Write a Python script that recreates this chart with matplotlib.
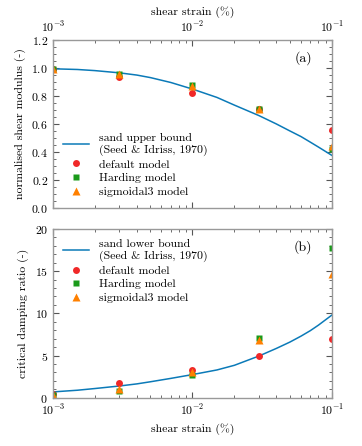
import matplotlib
matplotlib.use("Agg")
import matplotlib.pyplot as plt
from matplotlib.ticker import MultipleLocator

plt.rcParams["font.family"] = "serif"
plt.rcParams["font.serif"] = ["cmr10"]
plt.rcParams["mathtext.fontset"] = "cm"
plt.rcParams["axes.formatter.use_mathtext"] = True
plt.rcParams["font.size"] = 8.5

# test strains (%)
strain = [1e-3, 3e-3, 1e-2, 3e-2, 1e-1]

# (a) normalised shear modulus
G_default = [0.99, 0.935, 0.825, 0.71, 0.555]
G_harding = [0.99, 0.96, 0.88, 0.71, 0.42]
G_sigmoid = [0.99, 0.955, 0.87, 0.705, 0.44]

# Seed & Idriss (1970) curves
seed_strain = [1e-3, 1.5e-3, 2e-3, 3e-3, 4e-3, 5e-3, 7e-3, 1e-2, 1.5e-2, 2e-2,
               3e-2, 4e-2, 5e-2, 6e-2, 7e-2, 8e-2, 1e-1]
seed_G = [0.995, 0.99, 0.982, 0.966, 0.95, 0.932, 0.897, 0.85, 0.79, 0.735,
          0.66, 0.6, 0.55, 0.51, 0.47, 0.435, 0.375]

# (b) critical damping ratio
D_default = [0.4, 1.8, 3.3, 4.9, 7.0]
D_harding = [0.3, 0.8, 2.7, 7.1, 17.7]
D_sigmoid = [0.3, 1.0, 3.0, 6.8, 14.7]

seed_D = [0.7, 0.9, 1.1, 1.4, 1.65, 1.9, 2.3, 2.75, 3.3, 3.85,
          4.95, 5.85, 6.6, 7.3, 7.95, 8.6, 9.8]

line_col = "#0b7ab8"
red = "#f02828"
green = "#1a9a1a"
orange = "#ff8000"

fig = plt.figure(figsize=(3.62, 4.46), dpi=100)
ax1 = fig.add_axes([0.146, 0.534, 0.771, 0.376])
ax2 = fig.add_axes([0.146, 0.108, 0.771, 0.379])

for ax, curve, d, h, s, lab in [
    (ax1, seed_G, G_default, G_harding, G_sigmoid, "sand upper bound\n(Seed & Idriss, 1970)"),
    (ax2, seed_D, D_default, D_harding, D_sigmoid, "sand lower bound\n(Seed & Idriss, 1970)"),
]:
    ax.plot(seed_strain, curve, color=line_col, lw=1.1, label=lab)
    ax.plot(strain, d, "o", color=red, ms=5, mec="none", label="default model")
    ax.plot(strain, h, "s", color=green, ms=5, mec="none", label="Harding model")
    ax.plot(strain, s, "^", color=orange, ms=6, mec="none", label="sigmoidal3 model")
    ax.set_xscale("log")
    ax.set_xlim(1e-3, 1e-1)
    ax.tick_params(which="both", direction="in", top=True, right=True, color="#555555")
    ax.tick_params(which="major", length=4)
    ax.tick_params(which="minor", length=2)
    for sp in ax.spines.values():
        sp.set_color("#999999")
        sp.set_linewidth(1.0)

ax1.legend(loc="lower left", bbox_to_anchor=(0.0, 0.0), frameon=False,
           fontsize=8.5, handlelength=2.2, labelspacing=0.3)
ax2.legend(loc="upper left", bbox_to_anchor=(0.0, 1.0), frameon=False,
           fontsize=8.5, handlelength=2.2, labelspacing=0.3)

ax1.set_ylim(0, 1.2)
ax1.yaxis.set_major_locator(MultipleLocator(0.2))
ax1.yaxis.set_minor_locator(MultipleLocator(0.05))
ax1.set_ylabel("normalised shear modulus (-)")
ax1.xaxis.tick_top()
ax1.tick_params(which="both", bottom=True, top=True)
ax1.xaxis.set_label_position("top")
ax1.set_xlabel("shear strain (%)")
ax1.text(0.93, 0.87, "(a)", transform=ax1.transAxes, ha="right", fontsize=10)

ax2.set_ylim(0, 20)
ax2.yaxis.set_major_locator(MultipleLocator(5))
ax2.yaxis.set_minor_locator(MultipleLocator(1))
ax2.set_ylabel("critical damping ratio (-)")
ax2.set_xlabel("shear strain (%)")
ax2.text(0.93, 0.87, "(b)", transform=ax2.transAxes, ha="right", fontsize=10)

fig.savefig("out.png", dpi=100)
